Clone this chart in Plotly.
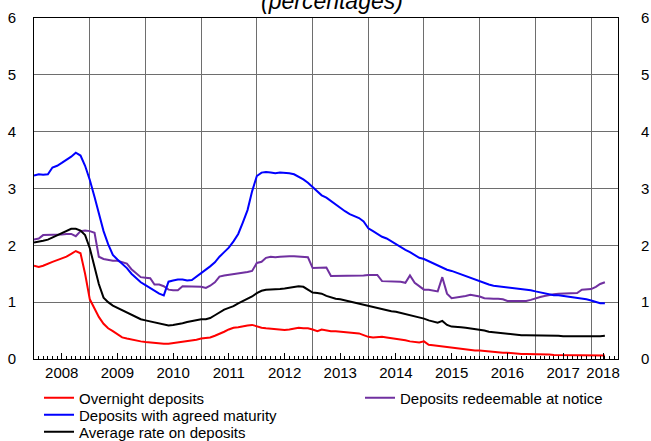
import pandas as pd
import plotly.graph_objects as go

# ---- data (monthly, Jan 2008 - Apr 2018) ----
overnight = [
    1.64, 1.62, 1.64, 1.68, 1.71, 1.74, 1.77, 1.80, 1.85, 1.90, 1.86, 1.50,
    1.05, 0.88, 0.74, 0.62, 0.54, 0.49, 0.43, 0.38, 0.36, 0.34, 0.33, 0.31,
    0.30, 0.29, 0.29, 0.28, 0.27, 0.27, 0.28, 0.29, 0.30, 0.31, 0.33, 0.34,
    0.36, 0.37, 0.38, 0.41, 0.44, 0.48, 0.52, 0.55, 0.56, 0.58, 0.59, 0.60,
    0.57, 0.55, 0.54, 0.53, 0.52, 0.52, 0.51, 0.52, 0.53, 0.55, 0.54, 0.54,
    0.52, 0.49, 0.52, 0.50, 0.49, 0.49, 0.48, 0.48, 0.47, 0.46, 0.45, 0.42,
    0.39, 0.38, 0.39, 0.39, 0.38, 0.37, 0.36, 0.35, 0.33, 0.31, 0.30, 0.29,
    0.31, 0.25, 0.24, 0.23, 0.21, 0.20, 0.19, 0.18, 0.17, 0.17, 0.16, 0.15,
    0.15, 0.14, 0.13, 0.13, 0.12, 0.11, 0.11, 0.10, 0.10, 0.09, 0.09, 0.09,
    0.08, 0.08, 0.08, 0.08, 0.07, 0.07, 0.07, 0.07, 0.06, 0.06, 0.06, 0.06,
    0.06, 0.06, 0.06, 0.06,
]
redeemable = [
    2.10, 2.12, 2.18, 2.18, 2.18, 2.19, 2.19, 2.20, 2.20, 2.16, 2.25, 2.26,
    2.25, 2.22, 1.80, 1.76, 1.74, 1.73, 1.73, 1.70, 1.68, 1.58, 1.50, 1.44,
    1.43, 1.42, 1.31, 1.31, 1.28, 1.22, 1.21, 1.21, 1.28, 1.28, 1.28, 1.27,
    1.27, 1.25, 1.29, 1.35, 1.45, 1.47, 1.48, 1.49, 1.50, 1.51, 1.53, 1.55,
    1.69, 1.71, 1.78, 1.80, 1.79, 1.80, 1.81, 1.81, 1.81, 1.80, 1.80, 1.79,
    1.60, 1.60, 1.61, 1.61, 1.46, 1.46, 1.46, 1.47, 1.47, 1.47, 1.47, 1.47,
    1.48, 1.48, 1.48, 1.37, 1.37, 1.37, 1.37, 1.36, 1.34, 1.47, 1.34, 1.28,
    1.22, 1.22, 1.21, 1.19, 1.44, 1.15, 1.07, 1.08, 1.09, 1.11, 1.13, 1.12,
    1.10, 1.07, 1.06, 1.06, 1.06, 1.05, 1.02, 1.02, 1.02, 1.02, 1.02, 1.04,
    1.07, 1.09, 1.11, 1.13, 1.14, 1.15, 1.15, 1.15, 1.15, 1.16, 1.22, 1.22,
    1.23, 1.27, 1.32, 1.35,
]
agreed = [
    3.23, 3.25, 3.24, 3.25, 3.37, 3.40, 3.45, 3.50, 3.56, 3.63, 3.58, 3.40,
    3.15, 2.85, 2.55, 2.25, 2.02, 1.83, 1.75, 1.68, 1.60, 1.50, 1.42, 1.35,
    1.30, 1.25, 1.20, 1.15, 1.12, 1.36, 1.38, 1.40, 1.40, 1.38, 1.39, 1.45,
    1.50, 1.56, 1.63, 1.70, 1.80, 1.88, 1.96, 2.07, 2.20, 2.40, 2.62, 2.95,
    3.22, 3.28, 3.29, 3.28, 3.27, 3.28, 3.28, 3.27, 3.25, 3.21, 3.16, 3.10,
    3.02, 2.95, 2.88, 2.84, 2.78, 2.72, 2.65, 2.60, 2.55, 2.52, 2.48, 2.42,
    2.30, 2.25, 2.20, 2.15, 2.12, 2.07, 2.01, 1.96, 1.92, 1.88, 1.83, 1.78,
    1.76, 1.72, 1.68, 1.64, 1.60, 1.57, 1.55, 1.52, 1.49, 1.46, 1.42, 1.39,
    1.37, 1.34, 1.31, 1.29, 1.28, 1.28, 1.27, 1.26, 1.25, 1.24, 1.23, 1.21,
    1.19, 1.17, 1.15, 1.13, 1.12, 1.12, 1.11, 1.10, 1.09, 1.08, 1.06, 1.05,
    1.03, 1.00, 0.98, 0.98,
]
average = [
    2.05, 2.06, 2.08, 2.10, 2.14, 2.17, 2.22, 2.26, 2.29, 2.29, 2.26, 2.18,
    1.95, 1.62, 1.32, 1.08, 1.00, 0.94, 0.90, 0.85, 0.81, 0.77, 0.73, 0.70,
    0.68, 0.66, 0.65, 0.62, 0.60, 0.59, 0.60, 0.61, 0.63, 0.65, 0.67, 0.69,
    0.70, 0.70, 0.72, 0.77, 0.82, 0.87, 0.90, 0.93, 0.98, 1.02, 1.06, 1.10,
    1.16, 1.20, 1.22, 1.22, 1.22, 1.23, 1.24, 1.25, 1.27, 1.28, 1.27, 1.22,
    1.17, 1.16, 1.15, 1.11, 1.08, 1.06, 1.05, 1.03, 1.02, 1.00, 0.98, 0.96,
    0.94, 0.92, 0.90, 0.88, 0.86, 0.84, 0.83, 0.81, 0.80, 0.78, 0.76, 0.74,
    0.71, 0.68, 0.66, 0.64, 0.67, 0.60, 0.57, 0.57, 0.56, 0.55, 0.54, 0.52,
    0.51, 0.50, 0.48, 0.47, 0.46, 0.45, 0.44, 0.43, 0.43, 0.42, 0.42, 0.42,
    0.42, 0.42, 0.42, 0.41, 0.41, 0.41, 0.40, 0.40, 0.40, 0.40, 0.39, 0.39,
    0.39, 0.40, 0.40, 0.41,
]
dates = pd.date_range("2008-01-01", periods=len(overnight), freq="MS")

year_labels = ["2008", "2009", "2010", "2011", "2012", "2013", "2014",
               "2015", "2016", "2017", "2018"]
label_pos = [f"{y}-07-01" for y in year_labels[:-1]] + ["2018-03-20"]
year_bounds = [f"{y}-01-01" for y in range(2009, 2019)]
y_ticks = [0, 1, 2, 3, 4, 5, 6]
x_range = ["2008-01-01", "2018-06-26"]

FONT = "Liberation Sans, Arial, sans-serif"
GRID = "#6e6e6e"
W, H = 651, 441

fig = go.Figure()
# (name, values, colour, legend id, legend x px, legend row centre y px)
series = [
    ("Overnight deposits", overnight, "#ff0000", "legend", 39, 398),
    ("Deposits redeemable at notice", redeemable, "#7030a0", "legend2", 360, 398),
    ("Deposits with agreed maturity", agreed, "#0000ff", "legend3", 39, 415),
    ("Average rate on deposits", average, "#000000", "legend4", 39, 432),
]
draw_order = [1, 0, 3, 2]
for i in draw_order:
    name, vals, col, lg, _, _ = series[i]
    fig.add_trace(go.Scatter(x=dates, y=vals, mode="lines", name=name,
                             line=dict(color=col, width=2), legend=lg))

# helper traces so the overlay axes render
fig.add_trace(go.Scatter(x=[dates[0]], y=[None], xaxis="x2", yaxis="y",
                         showlegend=False, hoverinfo="skip"))
fig.add_trace(go.Scatter(x=[dates[0]], y=[None], xaxis="x", yaxis="y2",
                         showlegend=False, hoverinfo="skip"))

fig.add_annotation(text="<i>(percentages)</i>", xref="paper", yref="paper",
                   x=0.51, y=1.006, xanchor="center", yanchor="bottom",
                   showarrow=False, font=dict(size=23, family=FONT))

legends = {}
for name, vals, col, lg, lx, ly in series:
    legends[lg] = dict(xref="container", yref="container",
                       x=lx / W, y=1 - ly / H, xanchor="left",
                       yanchor="middle", orientation="v",
                       font=dict(size=15, family=FONT),
                       bgcolor="rgba(0,0,0,0)", itemwidth=30)

fig.update_layout(
    width=W, height=H,
    margin=dict(l=34, r=33, t=18, b=82, autoexpand=False),
    paper_bgcolor="white", plot_bgcolor="white",
    font=dict(family=FONT, size=15, color="black"),
    showlegend=True,
    xaxis=dict(type="date", range=x_range, tickmode="array",
               tickvals=label_pos, ticktext=year_labels,
               ticks="inside", ticklen=6, tickcolor="black", tickwidth=1,
               minor=dict(ticks="inside", ticklen=3, dtick="M1",
                          tick0="2008-01-01", tickcolor="black",
                          showgrid=False),
               showgrid=False, zeroline=False, automargin=False,
               showline=True, linecolor="black", linewidth=1, mirror=True,
               tickfont=dict(size=15, family=FONT)),
    xaxis2=dict(type="date", range=x_range, overlaying="x", matches="x",
                tickmode="array", tickvals=year_bounds, automargin=False,
                showticklabels=False, ticks="", showgrid=True,
                gridcolor=GRID, gridwidth=1, showline=False, zeroline=False),
    yaxis=dict(range=[0, 6], tickmode="array", tickvals=y_ticks,
               showgrid=True, gridcolor=GRID, gridwidth=1, zeroline=False,
               ticks="", showline=True, linecolor="black", linewidth=1,
               mirror=True, ticklabelstandoff=14, automargin=False,
               tickfont=dict(size=15, family=FONT)),
    yaxis2=dict(range=[0, 6], overlaying="y", side="right",
                tickmode="array", tickvals=y_ticks, showgrid=False,
                zeroline=False, ticks="", showline=False, automargin=False,
                ticklabelstandoff=22, tickfont=dict(size=15, family=FONT)),
    **legends,
)

fig.write_html(
    "out.html",
    config={"displayModeBar": False},
    post_script="document.body.style.margin='0';document.body.style.padding='0';",
)
